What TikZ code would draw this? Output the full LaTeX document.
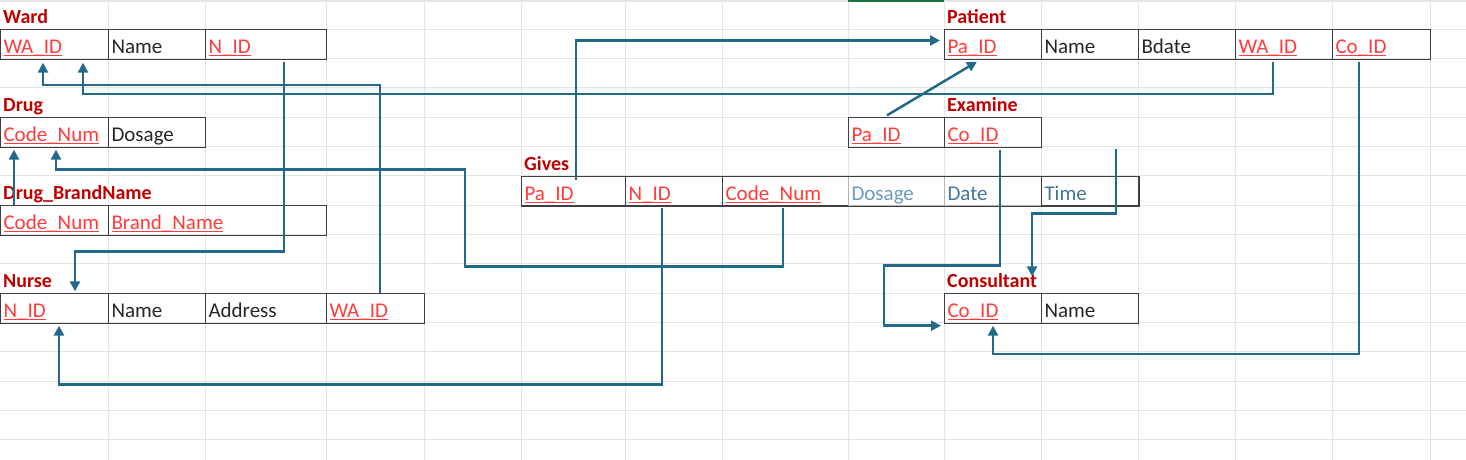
\documentclass[tikz,border=0pt]{standalone}
\usepackage{fontspec}
\setmainfont{Carlito}
\usetikzlibrary{arrows.meta}
\definecolor{linkblue}{HTML}{236A8A}
\definecolor{cellline}{HTML}{3F3F3F}
\definecolor{softline}{HTML}{B4B4B4}
\definecolor{gridgray}{HTML}{E4E4E4}
\definecolor{hdrred}{HTML}{C00000}
\definecolor{keyred}{HTML}{FF3B3B}
\definecolor{plaintext}{HTML}{262626}
\definecolor{dosageblue}{HTML}{6B9BBE}
\definecolor{timeblue}{HTML}{44779A}
\definecolor{excelgreen}{HTML}{1E7145}
\newcommand{\keyattr}[1]{\sbox0{#1}\rlap{\rule[-2.2pt]{\wd0}{1.1pt}}\usebox0}

\begin{document}
\begin{tikzpicture}[x=1pt, y=-1pt,
    every node/.style={font=\fontsize{21}{25}\selectfont},
    attr/.style={draw=cellline, line width=1pt, inner xsep=3pt, inner ysep=0pt,
        minimum height=29.33pt, text height=19pt, text depth=0pt,
        anchor=north west, align=left, text width=#1, text=plaintext},
    pkey/.style={text=keyred},
    tablename/.style={anchor=base west, inner sep=0pt, text=hdrred,
        font=\bfseries\fontsize{20}{24}\selectfont},
    fklink/.style={linkblue, line width=2.5pt},
    fkarrow/.style={fklink, -{Triangle[length=10pt, width=10pt]}}]
	\fill[white] (0,0) rectangle (1466,460);
	\useasboundingbox (0,0) rectangle (1466,460);
	% sheet grid
	\foreach \gx in {108,205,326,424,521,625,722,848,944,1041,1138,1235,1332,1430}
		\draw[gridgray, line width=1pt] (\gx,0) -- (\gx,460);
	\foreach \k in {1,...,15}
		\draw[gridgray, line width=1pt] (0,\k*29.33) -- (1466,\k*29.33);
	\draw[gridgray, line width=1.5pt] (0,1) -- (1466,1);
	\fill[excelgreen] (848,0) rectangle (944,2.5);
	% Ward
	\node[tablename] (wardTitle) at (3,23.5) {Ward};
	\node[attr=102pt, pkey] (wardId) at (0,29.33) {\keyattr{WA\_ID}};
	\node[attr=91pt] (wardName) at (108,29.33) {Name};
	\node[attr=115pt, pkey] (wardNurse) at (205,29.33) {\keyattr{N\_ID}};
	% Drug
	\node[tablename] (drugTitle) at (3,111.5) {Drug};
	\node[attr=102pt, pkey] (drugCode) at (0,117.33) {\keyattr{Code\_Num}};
	\node[attr=91pt] (drugDose) at (108,117.33) {Dosage};
	% Drug_BrandName
	\node[tablename] (brandTitle) at (3,199.5) {Drug\_BrandName};
	\node[attr=102pt, pkey] (brandCode) at (0,205.33) {\keyattr{Code\_Num}};
	\node[attr=212pt, pkey] (brandName) at (108,205.33) {\keyattr{Brand\_Name}};
	% Nurse
	\node[tablename] (nurseTitle) at (3,287.5) {Nurse};
	\node[attr=102pt, pkey] (nurseId) at (0,293.33) {\keyattr{N\_ID}};
	\node[attr=91pt] (nurseName) at (108,293.33) {Name};
	\node[attr=115pt] (nurseAddr) at (205,293.33) {Address};
	\node[attr=92pt, pkey] (nurseWard) at (326,293.33) {\keyattr{WA\_ID}};
	% Gives
	\node[tablename] (givesTitle) at (524,170.2) {Gives};
	\node[attr=98pt, pkey] (givesPa) at (521,176) {\keyattr{Pa\_ID}};
	\node[attr=91pt, pkey] (givesNurse) at (625,176) {\keyattr{N\_ID}};
	\node[attr=120pt, pkey] (givesCode) at (722,176) {\keyattr{Code\_Num}};
	\node[attr=90pt, draw=softline, text=dosageblue] (givesDose) at (848,176) {Dosage};
	\node[attr=91pt, draw=softline, text=timeblue] (givesDate) at (944,176) {Date};
	\node[attr=91pt, text=timeblue] (givesTime) at (1041,176) {Time};
	\draw[cellline, line width=1pt] (givesPa.north west) rectangle (givesTime.south east);
	% Patient
	\node[tablename] (patientTitle) at (947,23.5) {Patient};
	\node[attr=91pt, pkey] (patientId) at (944,29.33) {\keyattr{Pa\_ID}};
	\node[attr=91pt] (patientName) at (1041,29.33) {Name};
	\node[attr=91pt] (patientBdate) at (1138,29.33) {Bdate};
	\node[attr=91pt, pkey] (patientWard) at (1235,29.33) {\keyattr{WA\_ID}};
	\node[attr=92pt, pkey] (patientCo) at (1332,29.33) {\keyattr{Co\_ID}};
	% Examine
	\node[tablename] (examTitle) at (947,111.5) {Examine};
	\node[attr=90pt, pkey] (examPa) at (848,117.33) {\keyattr{Pa\_ID}};
	\node[attr=91pt, pkey] (examCo) at (944,117.33) {\keyattr{Co\_ID}};
	% Consultant
	\node[tablename] (consTitle) at (947,287.5) {Consultant};
	\node[attr=91pt, pkey] (consCo) at (944,293.33) {\keyattr{Co\_ID}};
	\node[attr=91pt] (consName) at (1041,293.33) {Name};
	% links
	\draw[fkarrow] ([xshift=79pt, yshift=-2pt]wardNurse.south west) -- ++(0,190) -| ([xshift=75pt, yshift=2pt]nurseId.north west);
	\draw[fkarrow] ([xshift=54pt]nurseWard.north west) -- ++(0,-208.33) -| ([xshift=43pt, yshift=-3pt]wardId.south west);
	\draw[fkarrow] ([xshift=38pt, yshift=-2pt]patientWard.south west) -- ++(0,32.33) -| ([xshift=83pt, yshift=-3pt]wardId.south west);
	\draw[fkarrow] ([xshift=14pt]brandCode.north west) -- ([xshift=14pt, yshift=-2pt]drugCode.south west);
	\draw[fkarrow] ([xshift=61pt, yshift=-2pt]givesCode.south west) -- ++(0,58) -- ++(-318,0) -- ++(0,-97) -| ([xshift=56pt, yshift=-2pt]drugCode.south west);
	\draw[fkarrow] ([xshift=37pt, yshift=-2pt]givesNurse.south west) -- ++(0,176) -| ([xshift=59pt, yshift=-2pt]nurseId.south west);
	\draw[fkarrow] ([xshift=55pt, yshift=-4pt]givesPa.north west) |- ([xshift=-4pt, yshift=4pt]patientId.west);
	\draw[fkarrow] ([xshift=39pt, yshift=2pt]examPa.north west) -- ([xshift=33pt, yshift=-2pt]patientId.south west);
	\draw[fkarrow] ([xshift=56pt, yshift=-2pt]examCo.south west) -- ++(0,116) -- ++(-116,0) |- ([xshift=-3pt, yshift=-2pt]consCo.south west);
	\coordinate (timeStart) at ([xshift=74pt, yshift=-1pt]examCo.south east);
	\draw[fkarrow] (timeStart) -- ++(0,65) -| ([xshift=88pt, yshift=17pt]consCo.north west);
	\draw[fkarrow] ([xshift=27pt, yshift=-2pt]patientCo.south west) -- ++(0,292.33) -| ([xshift=49pt, yshift=-2pt]consCo.south west);
\end{tikzpicture}
\end{document}
